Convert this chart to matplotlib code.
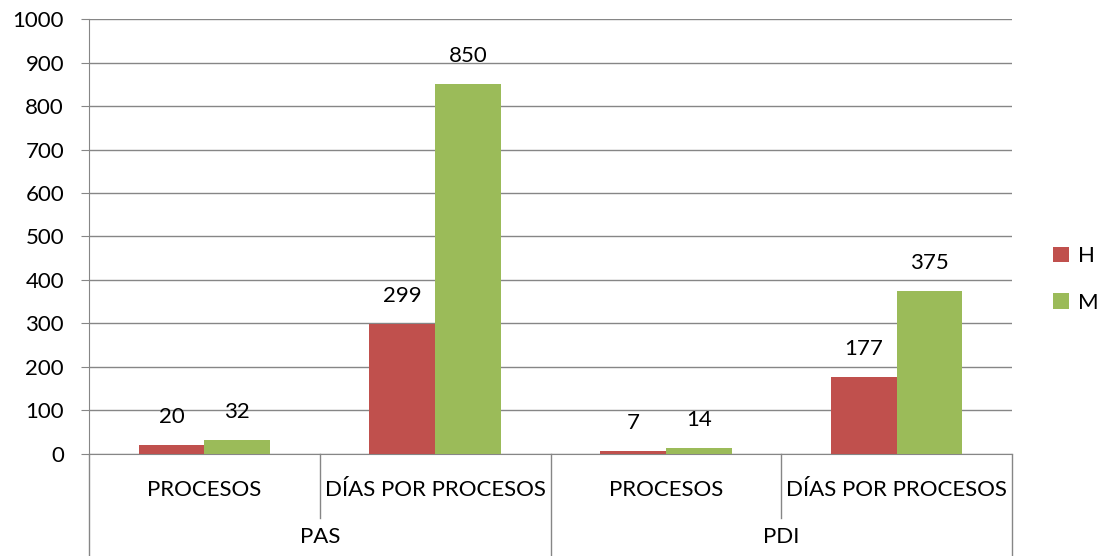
import matplotlib.pyplot as plt
import matplotlib.transforms as mtransforms
import numpy as np

plt.rcParams['font.family'] = ['Lato', 'DejaVu Sans']

groups = ['PAS', 'PDI']
subcats = ['PROCESOS', 'DÍAS POR PROCESOS', 'PROCESOS', 'DÍAS POR PROCESOS']
h_vals = [20, 299, 7, 177]
m_vals = [32, 850, 14, 375]
series = ['H', 'M']
colors = ['#C0504D', '#9BBB59']
yticks = np.arange(0, 1001, 100)

fig = plt.figure(figsize=(11.03, 5.56), dpi=100)
ax = fig.add_axes([0.0807, 0.1835, 0.8368, 0.7823])

x = np.arange(len(subcats))
w = 0.285
grid_c = '#868686'
fs = 16

for i, (vals, c, lab) in enumerate(zip([h_vals, m_vals], colors, series)):
    xs = x + (i - 0.5) * w
    ax.bar(xs, vals, width=w, color=c, label=lab, zorder=3)
    for xx, v in zip(xs, vals):
        ax.annotate(str(v), (xx, v), xytext=(0, 20), textcoords='offset points',
                    ha='center', va='center', fontsize=fs, color='black')

ax.set_xlim(-0.5, len(subcats) - 0.5)
ax.set_ylim(0, 1000)
ax.set_yticks(yticks)
ax.tick_params(axis='y', labelsize=fs, length=6, color=grid_c, pad=12)
ax.set_xticks([])
ax.yaxis.grid(True, color=grid_c, linewidth=1, zorder=0)
for s in ['top', 'right']:
    ax.spines[s].set_visible(False)
ax.spines['left'].set_color(grid_c)
ax.spines['bottom'].set_color(grid_c)

# multi-level category axis
trans = mtransforms.blended_transform_factory(ax.transData, ax.transAxes)
for k, sep in enumerate(np.arange(-0.5, len(subcats), 1.0)):
    ybot = -0.147 if k % 2 == 1 else -0.24
    ax.plot([sep, sep], [0, ybot], transform=trans, color=grid_c,
            linewidth=1, clip_on=False)
for xi, lab in zip(x, subcats):
    ax.text(xi, -0.083, lab, transform=trans, ha='center', va='center', fontsize=fs)
for gi, g in enumerate(groups):
    ax.text(2 * gi + 0.5, -0.19, g, transform=trans, ha='center', va='center', fontsize=fs)

ax.legend(loc='center left', bbox_to_anchor=(0.955, 0.497), bbox_transform=fig.transFigure,
          frameon=False, borderpad=0, borderaxespad=0,
          fontsize=fs, handlelength=0.7, handleheight=0.7, labelspacing=1.2,
          handletextpad=0.4)

fig.savefig('out.png', dpi=100)
